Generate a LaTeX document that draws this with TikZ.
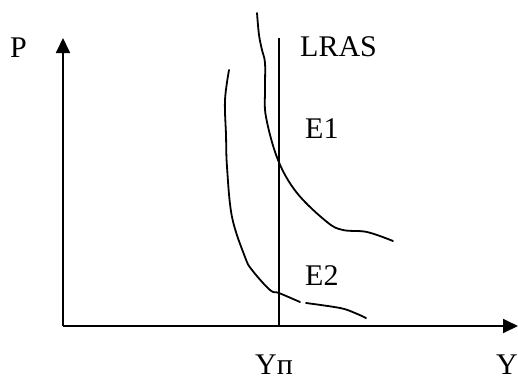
\documentclass[tikz,border=0pt]{standalone}
\usepackage{fontspec}
\setmainfont{Liberation Serif}
\usetikzlibrary{arrows.meta}
\begin{document}
\begin{tikzpicture}[x=1pt,y=-1pt,
  axis/.style={line width=1.8pt,-{Triangle[length=15pt,width=14pt]}},
  curve/.style={line width=1.8pt,line cap=round,line join=round},
  lbl/.style={inner sep=0pt,font=\fontsize{30}{31}\selectfont}]
\useasboundingbox (0,0) rectangle (518,380);
\coordinate (O) at (63,326);
\coordinate (Ptop) at (63,38);
\coordinate (Yend) at (518,326);
\coordinate (Ltop) at (279,38);
\coordinate (Lbot) at (279,326);
\draw[axis] (O) -- (Ptop);
\draw[axis] (O) -- (Yend);
\draw[line width=1.5pt] (Lbot) -- (Ltop);
\draw[curve] plot[smooth,tension=0.6] coordinates {(257,13) (259,35) (262,50) (265,63) (265,90) (266,117) (278,160) (297,193) (327,222) (343,230) (367,232) (393,241)};
\draw[curve] plot[smooth,tension=0.6] coordinates {(229,70) (225,100) (226,135) (227,167) (232,217) (245,257) (252,270) (270,290) (279,293) (300,302)};
\draw[curve] plot[smooth,tension=0.6] coordinates {(306,303) (340,308) (355,313) (366,318)};
\node[lbl,anchor=base west] (P) at (10,57) {P};
\node[lbl,anchor=base west] (LRAS) at (300,56) {LRAS};
\node[lbl,anchor=base west] (E1) at (305,138) {E1};
\node[lbl,anchor=base west] (E2) at (305,285) {E2};
\node[lbl,anchor=base west] (Yp) at (255,374) {Yп};
\node[lbl,anchor=base west] (Y) at (496,374) {Y};
\end{tikzpicture}
\end{document}
